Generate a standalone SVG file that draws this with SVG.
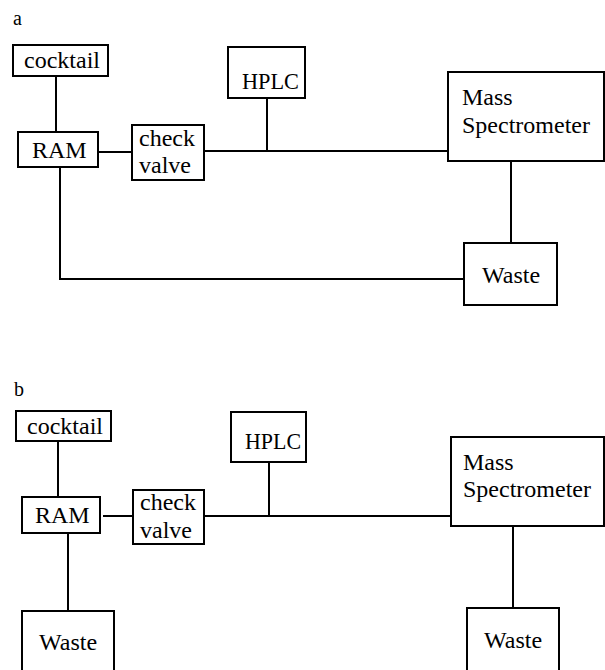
<svg xmlns="http://www.w3.org/2000/svg" width="605" height="670" viewBox="0 0 605 670">
<style>
.box{fill:#fff;stroke:#000;stroke-width:2}
.ln{fill:none;stroke:#000;stroke-width:2}
.t{font-family:'Liberation Serif','DejaVu Serif',serif;font-size:24px;fill:#000}
.lbl{font-size:20px}
</style>
<rect width="605" height="670" fill="#fff"/>
<g class="t" font-family="Liberation Serif, DejaVu Serif, serif">
<text class="lbl" x="13" y="25">a</text>
<text class="lbl" x="14" y="396">b</text>
</g>
<g id="connectors-a">
<path class="ln" d="M56 76V132"/>
<path class="ln" d="M98 152H132"/>
<path class="ln" d="M204 151H448"/>
<path class="ln" d="M267 98V151"/>
<path class="ln" d="M60 167V279H464"/>
<path class="ln" d="M511 161V243"/>
</g>
<g id="connectors-b">
<path class="ln" d="M58 441V497"/>
<path class="ln" d="M103 516H133"/>
<path class="ln" d="M204 516H451"/>
<path class="ln" d="M269 462V516"/>
<path class="ln" d="M68 533V611"/>
<path class="ln" d="M513 526V608"/>
</g>
<g class="t" font-family="Liberation Serif, DejaVu Serif, serif">
<g id="a-cocktail"><rect class="box" x="13" y="45" width="95" height="31"/><text x="24" y="68">cocktail</text></g>
<g id="a-ram"><rect class="box" x="18" y="132" width="80" height="35"/><text x="32" y="158">RAM</text></g>
<g id="a-check"><rect class="box" x="132" y="125" width="72" height="55"/><text x="139" y="146">check</text><text x="139" y="173">valve</text></g>
<g id="a-hplc"><rect class="box" x="228" y="47" width="77" height="51"/><text x="242" y="89" textLength="57" lengthAdjust="spacingAndGlyphs">HPLC</text></g>
<g id="a-ms"><rect class="box" x="448" y="72" width="156" height="89"/><text x="462" y="105">Mass</text><text x="462" y="133">Spectrometer</text></g>
<g id="a-waste"><rect class="box" x="464" y="243" width="93" height="62"/><text x="482" y="283">Waste</text></g>
<g id="b-cocktail"><rect class="box" x="16" y="411" width="95" height="30"/><text x="27" y="434">cocktail</text></g>
<g id="b-ram"><rect class="box" x="22" y="497" width="78" height="36"/><text x="35" y="523">RAM</text></g>
<g id="b-check"><rect class="box" x="133" y="490" width="71" height="54"/><text x="140" y="510">check</text><text x="140" y="538">valve</text></g>
<g id="b-hplc"><rect class="box" x="231" y="412" width="75" height="50"/><text x="245" y="449" textLength="56" lengthAdjust="spacingAndGlyphs">HPLC</text></g>
<g id="b-ms"><rect class="box" x="451" y="437" width="153" height="89"/><text x="463" y="470">Mass</text><text x="463" y="497">Spectrometer</text></g>
<g id="b-waste-left"><path class="box" d="M22 672V611H114V672"/><text x="39" y="650">Waste</text></g>
<g id="b-waste-right"><path class="box" d="M467 672V608H559V672"/><text x="484" y="648">Waste</text></g>
</g>
</svg>
